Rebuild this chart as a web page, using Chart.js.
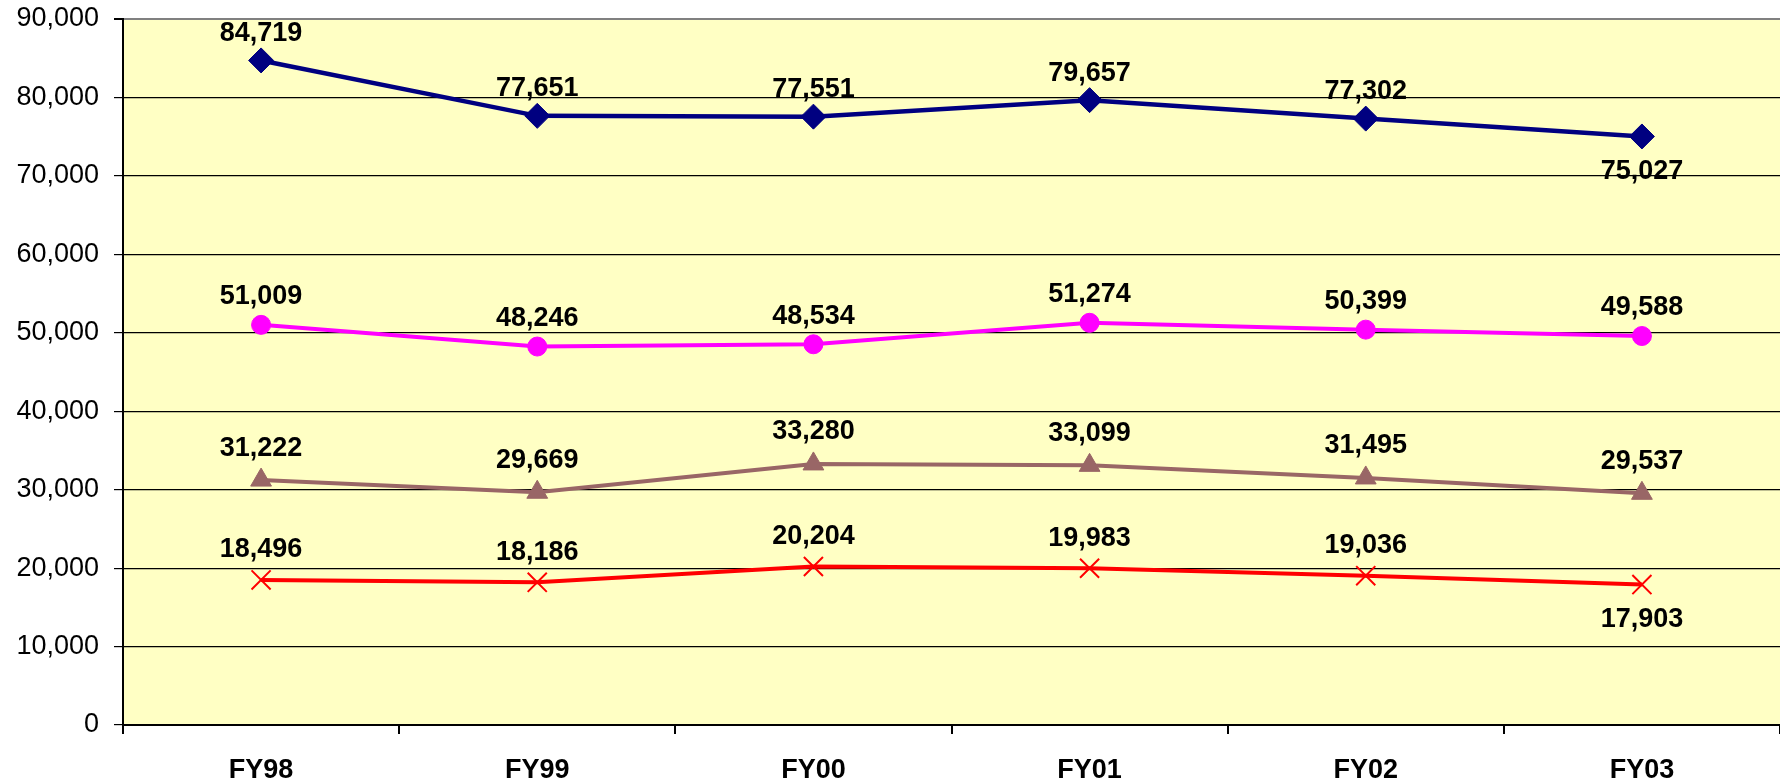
<!DOCTYPE html>
<html><head><meta charset="utf-8">
<script src="https://cdn.jsdelivr.net/npm/chart.js@4.4.1/dist/chart.umd.min.js"></script>
<style>html,body{margin:0;padding:0;background:#fff}#wrap{width:1780px;height:784px}</style>
</head><body><div id="wrap"><canvas id="c" width="1780" height="784"></canvas></div>
<script>
const categories = ["FY98","FY99","FY00","FY01","FY02","FY03"];
const seriesNavy = [84719,77651,77551,79657,77302,75027];
const seriesMagenta = [51009,48246,48534,51274,50399,49588];
const seriesBrown = [31222,29669,33280,33099,31495,29537];
const seriesRed = [18496,18186,20204,19983,19036,17903];
const yTicks = [0,10000,20000,30000,40000,50000,60000,70000,80000,90000];
// which labels sit below the point (index per series)
const belowNavy = [false,false,false,false,false,true];
const belowRed = [false,false,false,false,false,true];

const plotBg = {
  id:'plotBg',
  beforeDraw(chart){
    const {ctx, chartArea:a} = chart;
    ctx.save(); ctx.fillStyle='#FFFFC4';
    ctx.fillRect(a.left,a.top,a.right-a.left,a.bottom-a.top); ctx.restore();
  }
};
const dataLabels = {
  id:'dataLabels',
  afterDatasetsDraw(chart){
    const ctx = chart.ctx;
    ctx.save();
    ctx.font = 'bold 27px "Liberation Sans", Arial, sans-serif';
    ctx.fillStyle = '#000'; ctx.textAlign='center'; ctx.textBaseline='middle';
    chart.data.datasets.forEach((ds,i)=>{
      const meta = chart.getDatasetMeta(i);
      meta.data.forEach((pt,j)=>{
        const below = ds.below && ds.below[j];
        const y = below ? pt.y + 35 : pt.y - ds.labelGap;
        ctx.fillText(ds.data[j].toLocaleString('en-US'), pt.x, y);
      });
    });
    ctx.restore();
  }
};

new Chart(document.getElementById('c'), {
  type:'line',
  data:{
    labels: categories,
    datasets:[
      {data:seriesNavy, below:belowNavy, labelGap:27, borderColor:'#000080', backgroundColor:'#000080', borderWidth:4.5, pointStyle:'rectRot', pointRadius:12.5, pointBorderWidth:1},
      {data:seriesMagenta, labelGap:28, borderColor:'#FF00FF', backgroundColor:'#FF00FF', borderWidth:4, pointStyle:'circle', pointRadius:9.5, pointBorderWidth:1},
      {data:seriesBrown, labelGap:32, borderColor:'#996666', backgroundColor:'#996666', borderWidth:4, pointStyle:'triangle', pointRadius:12, pointBorderWidth:1},
      {data:seriesRed, below:belowRed, labelGap:30, borderColor:'#FF0000', backgroundColor:'#FF0000', borderWidth:4, pointStyle:'crossRot', pointRadius:13.5, pointBorderWidth:2}
    ]
  },
  options:{
    responsive:false, animation:false, devicePixelRatio:1,
    layout:{autoPadding:false, padding:{top:19,right:0,left:0,bottom:0}},
    plugins:{legend:{display:false}, tooltip:{enabled:false}},
    scales:{
      x:{
        offset:true,
        grid:{offset:true, drawOnChartArea:false, drawTicks:true, tickLength:9, color:'#000', lineWidth:2},
        border:{display:true, color:'#000', width:2},
        ticks:{color:'#000', font:{family:'"Liberation Sans", Arial, sans-serif', size:27, weight:'bold'}, padding:20},
        afterFit(s){ s.height = 59; s.paddingLeft = 0; s.paddingRight = 0; }
      },
      y:{
        min:0, max:90000,
        afterBuildTicks(s){ s.ticks = yTicks.map(v=>({value:v})); },
        grid:{color:(c)=> c.tick && c.tick.value===90000 ? '#808080' : '#000', lineWidth:(c)=> c.tick && c.tick.value===90000 ? 2 : 1.2, tickLength:9, tickColor:'#000', drawTicks:true},
        border:{display:true, color:'#000', width:2},
        ticks:{color:'#000', font:{family:'"Liberation Sans", Arial, sans-serif', size:27}, padding:15,
          callback:(v)=>Number(v).toLocaleString('en-US')},
        afterFit(s){ s.width = 123; s.paddingTop = 0; s.paddingBottom = 0; }
      }
    }
  },
  plugins:[plotBg, dataLabels]
});
</script></body></html>
